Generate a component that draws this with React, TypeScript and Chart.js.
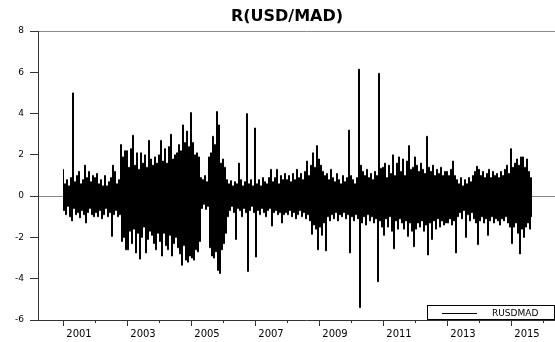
import { useEffect, useRef } from "react";
import { Chart, registerables } from "chart.js";

Chart.register(...registerables);

const chartTitle = "R(USD/MAD)";
const seriesLabel = "RUSDMAD";
const firstYear = 2001;
const samplesPerYear = 32; // alternating high / low readings, 16 pairs per year
const yTickValues = [-6, -4, -2, 0, 2, 4, 6, 8];
const xTickYears = [2001, 2002, 2003, 2004, 2005, 2006, 2007, 2008, 2009, 2010, 2011, 2012, 2013, 2014, 2015, 2016];
const xMin = 2000.21875;
const xMax = 2016.96875;

// daily returns (high, low pairs)
const r2001 = [1.3, -0.7, 0.6, -0.9, 0.8, -0.5, 0.5, -1.0, 0.9, -1.2, 5.0, -0.6, 0.7, -0.9, 1.0, -0.8, 1.2, -1.05, 0.6, -0.7, 0.8, -0.9, 1.5, -1.3, 0.9, -0.8, 1.2, -0.6, 0.7, -0.9, 1.0, -1.0];
const r2002 = [0.9, -0.8, 1.1, -1.0, 0.6, -0.7, 0.8, -1.1, 0.5, -0.9, 1.0, -0.6, 0.5, -1.0, 0.7, -0.8, 0.9, -1.95, 1.5, -0.9, 1.2, -0.7, 0.6, -1.0, 0.8, -0.9, 2.5, -2.2, 1.9, -2.0, 2.2, -2.6];
const r2003 = [2.2, -2.6, 1.4, -1.7, 2.3, -2.3, 2.95, -1.6, 1.5, -2.75, 2.1, -1.8, 1.3, -3.05, 2.1, -2.0, 1.6, -1.5, 2.0, -2.75, 1.4, -2.1, 2.7, -1.7, 1.8, -1.9, 1.5, -2.3, 1.9, -2.6, 1.6, -1.8];
const r2004 = [2.0, -2.2, 2.7, -2.9, 1.7, -1.8, 2.3, -2.4, 1.6, -2.6, 2.4, -1.9, 3.0, -2.9, 1.8, -2.3, 2.0, -2.0, 2.1, -2.5, 2.5, -2.8, 2.2, -3.35, 3.45, -2.4, 2.6, -3.1, 3.15, -3.2, 2.4, -2.9];
const r2005 = [4.05, -3.0, 2.6, -3.1, 2.0, -2.6, 2.1, -2.7, 1.9, -2.2, 0.9, -0.6, 0.8, -0.4, 1.0, -0.65, 0.7, -0.5, 1.9, -2.5, 2.1, -2.9, 2.9, -3.0, 2.5, -2.7, 4.1, -3.6, 3.45, -3.75, 1.6, -2.6];
const r2006 = [1.8, -2.3, 1.4, -1.8, 0.8, -1.0, 0.6, -0.7, 0.75, -0.5, 0.5, -0.8, 0.7, -2.1, 0.6, -0.6, 1.6, -0.7, 0.8, -1.0, 0.5, -0.6, 0.7, -0.8, 4.0, -3.65, 0.6, -0.7, 0.8, -0.5, 0.5, -0.8];
const r2007 = [3.3, -2.95, 0.6, -0.7, 0.8, -0.9, 0.5, -0.6, 0.9, -0.8, 0.7, -1.0, 0.6, -0.7, 0.9, -0.6, 1.3, -1.45, 0.7, -0.8, 0.9, -0.7, 1.3, -0.9, 0.6, -0.8, 1.0, -1.3, 0.8, -0.9, 1.1, -0.8];
const r2008 = [0.8, -0.9, 1.0, -0.7, 0.7, -1.0, 1.1, -0.8, 0.8, -1.1, 1.3, -0.9, 0.9, -0.7, 1.1, -1.0, 0.8, -0.8, 1.2, -1.1, 1.7, -0.9, 1.0, -1.2, 1.5, -1.85, 2.1, -1.4, 1.4, -1.6, 2.45, -2.6];
const r2009 = [1.8, -1.5, 1.5, -1.9, 1.2, -1.3, 1.0, -2.65, 1.1, -1.0, 0.8, -1.2, 1.3, -0.9, 0.9, -1.1, 0.7, -0.8, 1.1, -1.2, 0.8, -0.9, 0.6, -1.0, 1.0, -0.8, 0.7, -1.1, 0.9, -0.9, 3.2, -2.75];
const r2010 = [1.0, -1.0, 0.8, -1.2, 0.6, -0.9, 0.9, -1.1, 6.15, -5.4, 1.5, -1.3, 1.2, -1.0, 1.0, -1.4, 1.3, -0.9, 0.9, -1.2, 1.1, -1.0, 0.8, -1.3, 1.2, -1.1, 1.0, -4.15, 5.95, -1.2, 1.35, -1.5];
const r2011 = [1.4, -1.9, 1.6, -1.1, 0.9, -1.5, 1.5, -1.0, 1.1, -1.7, 2.0, -2.55, 1.0, -1.2, 1.6, -1.6, 1.9, -1.1, 1.2, -1.3, 1.8, -1.6, 1.0, -1.2, 1.7, -1.95, 2.45, -1.3, 1.3, -1.7, 1.4, -2.45];
const r2012 = [1.9, -1.6, 1.5, -1.3, 1.2, -1.5, 1.6, -1.2, 1.3, -1.7, 1.1, -1.4, 2.9, -2.85, 1.4, -1.3, 1.2, -2.1, 1.5, -1.2, 1.0, -1.6, 1.3, -1.1, 1.1, -1.5, 1.4, -1.2, 1.0, -1.4, 1.2, -1.3];
const r2013 = [1.2, -1.3, 1.0, -1.1, 1.3, -1.4, 1.7, -1.2, 1.0, -2.75, 0.8, -1.0, 0.6, -0.8, 0.9, -1.1, 0.5, -0.7, 0.8, -2.0, 0.6, -0.9, 0.9, -1.2, 0.7, -0.8, 1.0, -1.1, 1.2, -1.3, 1.45, -2.35];
const r2014 = [1.3, -1.2, 1.0, -1.0, 1.2, -1.3, 0.9, -1.1, 1.1, -1.9, 1.3, -1.2, 0.9, -1.0, 1.2, -1.3, 1.0, -1.1, 1.1, -1.2, 0.9, -1.4, 1.2, -1.1, 1.0, -1.2, 1.3, -1.0, 1.5, -1.3, 1.1, -1.5];
const r2015 = [2.3, -2.3, 1.4, -1.5, 1.6, -1.3, 1.8, -1.8, 1.5, -2.8, 1.9, -1.6, 1.9, -2.0, 1.4, -1.5, 1.8, -1.3, 1.2, -1.6, 0.9, -1.0];

const yearSeries = [r2001, r2002, r2003, r2004, r2005, r2006, r2007, r2008, r2009, r2010, r2011, r2012, r2013, r2014, r2015];

const FONT = "'DejaVu Sans', 'Liberation Sans', sans-serif";

const yearTickPlugin = {
  id: "yearTicks",
  afterDraw(chart: any) {
    const sc = chart.scales.x;
    const ctx = chart.ctx;
    ctx.save();
    ctx.strokeStyle = "#333";
    ctx.lineWidth = 1;
    sc.ticks.forEach((t: any) => {
      const x = Math.round(sc.getPixelForValue(t.value)) + 0.5;
      const len = t.value % 2 === 1 ? 6 : 3;
      ctx.beginPath();
      ctx.moveTo(x, sc.top);
      ctx.lineTo(x, sc.top + len);
      ctx.stroke();
    });
    ctx.restore();
  },
};

const boxLegendPlugin = {
  id: "boxLegend",
  afterDraw(chart: any) {
    const { ctx, chartArea } = chart;
    const ds = chart.data.datasets[0];
    const right = chart.width - 20;
    const left = right - 127;
    const bottom = chartArea.bottom - 1;
    const top = bottom - 14;
    ctx.save();
    ctx.fillStyle = "#fff";
    ctx.fillRect(left, top, right - left, bottom - top);
    ctx.strokeStyle = "#000";
    ctx.lineWidth = 1;
    ctx.strokeRect(left + 0.5, top + 0.5, right - left, bottom - top);
    const midY = top + 8.5;
    ctx.beginPath();
    ctx.moveTo(left + 15, midY);
    ctx.lineTo(left + 50, midY);
    ctx.stroke();
    ctx.font = `9px ${FONT}`;
    ctx.fillStyle = "#000";
    ctx.textBaseline = "middle";
    ctx.textAlign = "left";
    ctx.fillText(ds.label, left + 65, midY);
    ctx.restore();
  },
};

function App() {
  const ref = useRef<HTMLCanvasElement | null>(null);

  useEffect(() => {
    if (!ref.current) return;
    const points = yearSeries.flatMap((arr, i) =>
      arr.map((v, j) => ({ x: firstYear + i + j / samplesPerYear, y: v }))
    );
    const chart = new Chart(ref.current, {
      type: "line",
      data: {
        datasets: [
          {
            label: seriesLabel,
            data: points,
            borderColor: "#000",
            borderWidth: 1,
            pointRadius: 0,
            stepped: "middle",
            fill: false,
          },
        ],
      },
      options: {
        responsive: false,
        animation: false,
        events: [],
        layout: { padding: 0 },
        plugins: {
          legend: { display: false },
          tooltip: { enabled: false },
          title: {
            display: true,
            text: chartTitle,
            color: "#000",
            font: { family: FONT, size: 16, weight: "bold" },
            padding: { top: 7.4, bottom: 4.4 },
          },
        },
        scales: {
          x: {
            type: "linear",
            position: "bottom",
            min: xMin,
            max: xMax,
            afterBuildTicks: (scale: any) => {
              scale.ticks = xTickYears.map((v) => ({ value: v }));
            },
            afterFit: (scale: any) => {
              scale.height = 22;
            },
            grid: { display: false, drawTicks: false },
            border: { display: true, color: "#333", width: 1 },
            ticks: {
              autoSkip: false,
              maxRotation: 0,
              padding: 8,
              labelOffset: 16,
              color: "#000",
              font: { family: FONT, size: 10 },
              callback: (value: any) => (Number(value) % 2 === 1 ? String(value) : ""),
            },
          },
          y: {
            type: "linear",
            min: -6,
            max: 8,
            afterBuildTicks: (scale: any) => {
              scale.ticks = yTickValues.map((v) => ({ value: v }));
            },
            afterFit: (scale: any) => {
              scale.width = 38;
            },
            grid: {
              drawOnChartArea: true,
              drawTicks: true,
              tickLength: 8,
              tickColor: "#333",
              color: (c: any) =>
                c.tick && (c.tick.value === 0 || c.tick.value === 8) ? "#8a8a8a" : "rgba(0,0,0,0)",
            },
            border: { display: true, color: "#333", width: 1 },
            ticks: {
              padding: 6,
              color: "#000",
              font: { family: FONT, size: 9 },
            },
          },
        },
      },
      plugins: [yearTickPlugin, boxLegendPlugin],
    } as any);
    return () => chart.destroy();
  }, []);

  return (
    <div
      style={{
        position: "fixed",
        left: 0,
        top: 0,
        width: 555,
        height: 342,
        overflow: "hidden",
        background: "#fff",
      }}
    >
      <canvas ref={ref} width={574} height={342} style={{ display: "block" }} />
    </div>
  );
}

export default App;
